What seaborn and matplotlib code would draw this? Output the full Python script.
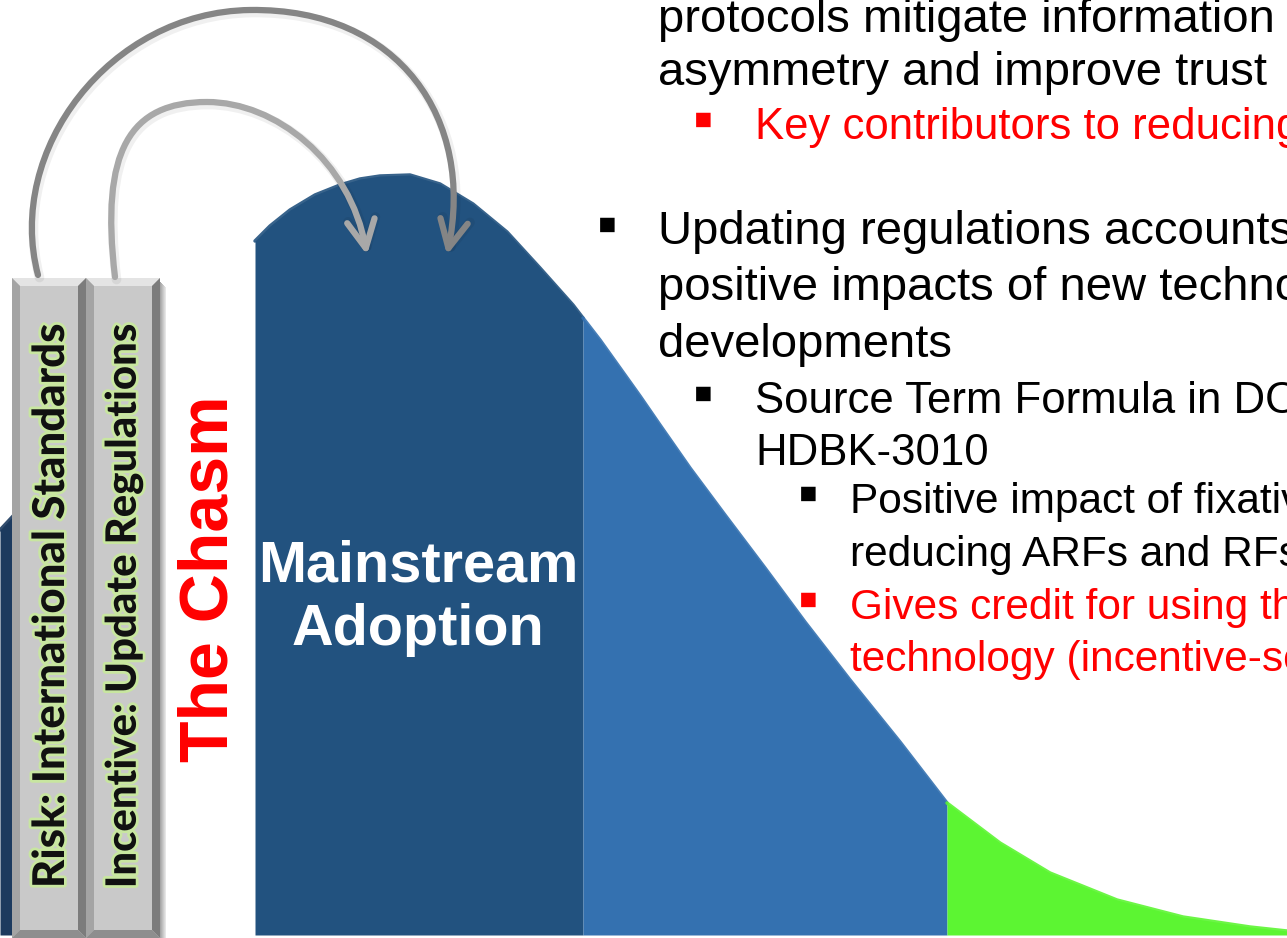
import numpy as np
import matplotlib
matplotlib.use("Agg")
import matplotlib.pyplot as plt
import matplotlib.patheffects as pe
import seaborn as sns
from matplotlib import font_manager
from matplotlib.patches import Polygon, Rectangle, FancyArrowPatch
from matplotlib.path import Path

# Adoption curve (x in px, top edge y in px)
curve_x = [0, 14, 255, 270, 290, 315, 340, 360, 380, 410, 440, 473, 507, 540, 573, 583,
           600, 620, 640, 660, 690, 725, 765, 805, 850, 900, 947, 1000, 1050, 1117, 1183, 1250, 1287]
curve_y = [530, 515, 241, 226, 210, 195, 185, 179, 176, 175, 184, 204, 232, 268, 305, 318,
           340, 368, 396, 425, 468, 515, 568, 622, 680, 742, 803, 843, 873, 900, 917, 927, 931]

# Segments of the curve: (start, end, colour)
segment_edges = [0, 14, 255, 583, 947, 1287]
segment_colors = ["#1c3a5e", None, "#22527f", "#3471b0", "#5cf532"]

pillar_labels = ["Risk: International Standards", "Incentive: Update Regulations"]
chasm_label = "The Chasm"
adoption_label = "Mainstream\nAdoption"

body_lines = [
    "protocols mitigate information",
    "asymmetry and improve trust",
    "Key contributors to reducing",
    "Updating regulations accounts",
    "positive impacts of new technological",
    "developments",
    "Source Term Formula in DOE-",
    "HDBK-3010",
    "Positive impact of fixatives on",
    "reducing ARFs and RFs",
    "Gives credit for using the",
    "technology (incentive-setting)",
]
body_colors = ["black", "black", "red", "black", "black", "black",
               "black", "black", "black", "black", "red", "red"]
body_levels = [1, 1, 2, 1, 1, 1, 2, 2, 3, 3, 3, 3]
body_bullet = [False, False, True, True, False, False, True, False, True, False, True, False]

sns.set_theme(style="white")
names = {f.name for f in font_manager.fontManager.ttflist}
label_font = next((n for n in ["Lato", "Open Sans", "Liberation Sans Narrow"] if n in names),
                  "DejaVu Sans")
plt.rcParams["font.family"] = ["Liberation Sans", "DejaVu Sans"]

fig = plt.figure(figsize=(12.87, 9.38), dpi=100)
ax = fig.add_axes([0, 0, 1, 1])

cx = np.array(curve_x, dtype=float)
cy = np.array(curve_y, dtype=float)
base = 935
for x0, x1, col in zip(segment_edges[:-1], segment_edges[1:], segment_colors):
    if col is None:
        continue
    m = (cx >= x0) & (cx <= x1)
    ax.fill_between(cx[m], cy[m], base, color=col, lw=0, zorder=1)
    sns.lineplot(x=cx[m], y=cy[m], ax=ax, color=col, lw=2.5, alpha=0.9, zorder=2)
ax.set_xlim(0, 1287)
ax.set_ylim(938, 0)
ax.axis("off")

# adoption label
ax.text(418, 598, adoption_label, color="white", fontsize=41.5, fontweight="bold",
        ha="center", va="center", linespacing=1.22, zorder=5)

# the chasm
ax.text(210, 579, chasm_label, color="#ff0000", fontsize=49, fontweight="bold",
        rotation=90, ha="center", va="center", zorder=5)


# pillars with bevel
def pillar(x0, x1, y0, y1, b=8):
    ax.add_patch(Rectangle((x0, y0), x1 - x0, y1 - y0, color="#c9c9c9", lw=0, zorder=3))
    ax.add_patch(Polygon([(x0, y0), (x1, y0), (x1 - b, y0 + b), (x0 + b, y0 + b)],
                         color="#e4e4e4", lw=0, zorder=3))
    ax.add_patch(Polygon([(x0, y0), (x0 + b, y0 + b), (x0 + b, y1 - b), (x0, y1)],
                         color="#a4a4a4", lw=0, zorder=3))
    ax.add_patch(Polygon([(x1, y0), (x1, y1), (x1 - b, y1 - b), (x1 - b, y0 + b)],
                         color="#7c7c7c", lw=0, zorder=3))
    ax.add_patch(Polygon([(x0, y1), (x1, y1), (x1 - b, y1 - b), (x0 + b, y1 - b)],
                         color="#8e8e8e", lw=0, zorder=3))


for i in range(6):
    ax.add_patch(Rectangle((160 + i, 282 + i), 1, 660, color="black", alpha=0.35 - i * 0.05,
                           lw=0, zorder=2.9))
pillar(12, 86, 278, 938)
pillar(86, 160, 278, 938)

fig.canvas.draw()
renderer = fig.canvas.get_renderer()
for xc, lab in zip([51, 124], pillar_labels):
    t = ax.text(xc, 606, lab, rotation=90, ha="center", va="center", fontsize=34,
                fontweight="black", family=[label_font, "DejaVu Sans"], color="#111111",
                zorder=4, path_effects=[pe.withStroke(linewidth=4, foreground="#c8e6a0")])
    h = t.get_window_extent(renderer).height
    t.set_fontsize(34 * 566 / h)

# curved arrows from pillars to the curve
outer = Path([(38, 275), (5, 150), (110, 12), (250, 10), (400, 8), (475, 120), (447, 255)],
             [Path.MOVETO] + [Path.CURVE4] * 6)
inner = Path([(115, 277), (100, 150), (130, 102), (207, 102), (275, 102), (350, 160), (367, 255)],
             [Path.MOVETO] + [Path.CURVE4] * 6)
style = "->,head_length=1.0,head_width=0.5"
for p, col in [(outer, "#858585"), (inner, "#a8a8a8")]:
    sh = Path(p.vertices + np.array([1.5, 2.5]), p.codes)
    ax.add_patch(FancyArrowPatch(path=sh, arrowstyle=style, mutation_scale=20, lw=7,
                                 color="black", alpha=0.06, zorder=6))
    ax.add_patch(FancyArrowPatch(path=p, arrowstyle=style, mutation_scale=20, lw=4.5,
                                 color=col, zorder=6))

# bullet text on the right
level_x = {1: 658, 2: 755, 3: 850}
level_size = {1: 34, 2: 31.5, 3: 30.5}
bullet_x = {1: 607, 2: 703, 3: 808}
baselines = [32, 85, 139, 244, 300, 357, 413, 465, 513, 566, 619, 671]
for txt, col, lev, bul, yb in zip(body_lines, body_colors, body_levels, body_bullet, baselines):
    ax.text(level_x[lev], yb, txt, color=col, fontsize=level_size[lev], ha="left",
            va="baseline", zorder=4)
    if bul:
        ax.text(bullet_x[lev], yb - 16, "\u25aa", color=col, fontsize=42, ha="center",
                va="center", zorder=4)

fig.savefig("out.png", dpi=100)
